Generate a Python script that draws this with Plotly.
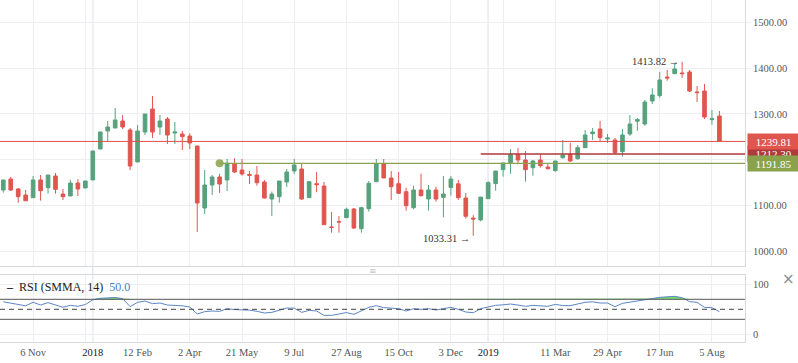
import plotly.graph_objects as go
import pandas as pd

# ---------------- data ----------------
dates = pd.date_range('2017-10-09', periods=97, freq='7D').strftime('%Y-%m-%d').tolist()

opens = [1133.5, 1157.5, 1135.7, 1122.5, 1116.7, 1155.4, 1138.6, 1164.1, 1124.7, 1120.4,
         1148.8, 1137.9, 1155.4, 1223.2, 1262.6, 1269.1, 1284.5, 1264.8, 1194.7, 1260.4,
         1310.7, 1271.3, 1288.8, 1258.2, 1256.0, 1251.6, 1229.8, 1094.1, 1144.4, 1161.9,
         1155.4, 1191.5, 1177.2, 1167.5, 1166.3, 1151.0, 1113.8, 1118.9, 1151.0, 1175.0,
         1179.4, 1116.7, 1147.3, 1142.2, 1052.5, 1064.2, 1072.9, 1091.9, 1048.9, 1092.6,
         1151.7, 1190.4, 1159.7, 1147.3, 1129.8, 1094.8, 1133.5, 1113.8, 1133.5, 1117.4,
         1139.0, 1147.0, 1116.0, 1072.0, 1068.0, 1114.5, 1147.5, 1178.0, 1193.3, 1210.8,
         1199.1, 1182.3, 1199.1, 1183.8, 1175.8, 1204.2, 1211.5, 1202.0, 1226.1, 1256.7,
         1267.0, 1245.1, 1242.9, 1217.4, 1256.0, 1284.0, 1277.9, 1328.2, 1339.9, 1380.7,
         1388.0, 1389.5, 1391.7, 1347.9, 1350.1, 1287.4, 1295.4]
highs = [1155.4, 1161.9, 1137.9, 1133.5, 1164.1, 1166.3, 1166.3, 1170.7, 1135.7, 1155.4,
         1157.5, 1153.2, 1218.8, 1260.4, 1284.5, 1312.9, 1297.6, 1269.1, 1275.7, 1299.8,
         1339.2, 1297.6, 1293.2, 1282.3, 1262.6, 1257.5, 1229.8, 1177.2, 1166.3, 1168.5,
         1201.3, 1203.0, 1201.3, 1175.4, 1186.0, 1155.4, 1130.0, 1153.2, 1179.4, 1201.3,
         1191.8, 1151.7, 1172.9, 1151.0, 1085.3, 1076.6, 1094.8, 1094.1, 1097.0, 1153.2,
         1201.3, 1201.3, 1175.0, 1172.9, 1138.6, 1143.0, 1169.2, 1144.4, 1140.8, 1164.1,
         1164.1, 1155.4, 1127.0, 1078.5, 1118.0, 1152.5, 1175.0, 1192.6, 1223.2, 1225.4,
         1218.8, 1199.1, 1212.3, 1190.4, 1196.9, 1242.9, 1237.0, 1232.0, 1264.8, 1269.1,
         1284.5, 1256.0, 1247.3, 1267.0, 1297.6, 1291.0, 1330.4, 1355.9, 1391.7, 1396.1,
         1410.0, 1413.82, 1396.1, 1361.0, 1365.4, 1308.5, 1306.4]
lows = [1127.6, 1131.3, 1105.8, 1108.7, 1116.7, 1110.1, 1125.5, 1125.5, 1111.6, 1120.4,
        1120.4, 1137.9, 1155.4, 1223.2, 1240.7, 1269.1, 1267.0, 1177.2, 1194.7, 1253.8,
        1247.3, 1253.8, 1234.1, 1234.1, 1221.0, 1223.2, 1041.6, 1081.0, 1122.5, 1126.9,
        1131.3, 1170.7, 1164.8, 1146.6, 1143.0, 1114.5, 1076.6, 1105.8, 1140.0, 1168.5,
        1111.6, 1116.7, 1128.4, 1057.6, 1040.1, 1040.1, 1072.9, 1048.1, 1040.1, 1086.1,
        1151.7, 1159.7, 1111.6, 1124.7, 1088.3, 1091.2, 1118.9, 1088.3, 1108.0, 1073.7,
        1121.1, 1112.0, 1071.0, 1033.31, 1065.0, 1114.5, 1132.0, 1162.7, 1169.2, 1189.6,
        1151.7, 1164.8, 1182.3, 1178.0, 1173.6, 1202.0, 1195.5, 1199.9, 1226.1, 1242.9,
        1240.7, 1236.3, 1211.5, 1206.4, 1252.0, 1263.0, 1274.0, 1321.7, 1335.5, 1372.7,
        1388.0, 1378.6, 1347.9, 1326.0, 1288.8, 1276.4, 1239.81]
closes = [1155.4, 1133.5, 1118.9, 1110.1, 1155.4, 1132.0, 1166.3, 1134.9, 1118.9, 1148.8,
          1135.7, 1153.2, 1218.8, 1260.4, 1271.3, 1286.7, 1271.3, 1186.0, 1262.6, 1299.8,
          1260.4, 1284.5, 1253.8, 1260.4, 1250.2, 1236.3, 1105.0, 1144.4, 1161.9, 1146.6,
          1192.2, 1172.9, 1168.5, 1165.6, 1149.5, 1116.0, 1124.7, 1153.2, 1172.9, 1188.2,
          1113.8, 1151.7, 1145.2, 1057.6, 1051.8, 1063.5, 1091.2, 1050.3, 1094.8, 1148.1,
          1190.4, 1159.7, 1140.8, 1126.2, 1099.2, 1133.5, 1121.1, 1133.5, 1113.8, 1124.7,
          1157.5, 1116.7, 1076.0, 1070.0, 1118.0, 1149.5, 1175.0, 1192.6, 1210.8, 1199.1,
          1178.0, 1196.9, 1186.7, 1180.2, 1196.9, 1210.1, 1196.9, 1226.1, 1253.8, 1260.4,
          1248.0, 1247.3, 1215.2, 1253.8, 1277.9, 1287.5, 1326.0, 1341.4, 1374.2, 1378.6,
          1398.3, 1388.0, 1350.1, 1346.5, 1293.2, 1289.6, 1239.81]
rsi = [65.0, 62.0, 59.0, 57.0, 64.0, 58.6, 63.3, 58.0, 54.0, 58.0,
       56.0, 59.5, 69.0, 72.0, 73.0, 73.5, 71.5, 55.3, 64.0, 66.6,
       61.3, 62.6, 58.6, 58.0, 57.0, 54.6, 40.6, 45.3, 46.6, 45.9,
       51.2, 49.5, 49.2, 48.3, 46.0, 42.6, 43.9, 48.5, 52.5, 52.3,
       43.9, 47.9, 46.6, 37.9, 37.9, 40.5, 43.5, 39.9, 47.2, 53.9,
       57.3, 53.3, 52.5, 51.2, 46.6, 51.2, 49.9, 51.2, 48.6, 51.0,
       53.9, 49.9, 44.6, 43.2, 51.2, 54.6, 57.9, 59.0, 60.6, 58.5,
       55.9, 57.9, 56.5, 56.0, 59.8, 57.5, 57.3, 61.0, 64.0, 65.0,
       62.6, 62.6, 55.3, 61.9, 64.0, 65.9, 69.0, 71.5, 73.9, 74.6,
       75.9, 73.2, 65.2, 64.0, 53.9, 53.3, 45.3]

tick_dates = ['2017-11-06', '2018-01-01', '2018-02-12', '2018-04-02', '2018-05-21',
              '2018-07-09', '2018-08-27', '2018-10-15', '2018-12-03', '2019-01-07',
              '2019-03-11', '2019-04-29', '2019-06-17', '2019-08-05']
tick_labels = ['6 Nov', '2018', '12 Feb', '2 Apr', '21 May', '9 Jul', '27 Aug', '15 Oct',
               '3 Dec', '2019', '11 Mar', '29 Apr', '17 Jun', '5 Aug']
year_labels = ['2018', '2019']
extra_grid_dates = ['2017-12-25', '2019-01-21']
price_ticks = [1000, 1100, 1200, 1300, 1400, 1500]
rsi_ticks = [0, 100]
rsi_upper, rsi_mid, rsi_lower = 70, 50, 30

last_price = 1239.81
level_dark, level_dark_start = 1212.30, '2018-12-31'
level_green, level_green_start = 1191.85, '2018-04-30'
high_idx, high_val = 91, 1413.82
low_idx, low_val = 63, 1033.31

# ---------------- style ----------------
FONT = 'Liberation Serif'
UP = '#56a27d'
DOWN = '#e0564f'
GRID = '#eceef1'
YEARGRID = '#d3d6db'
BORDER = '#d6d9de'
TXT = '#555555'
RED_LINE = '#dd4f4a'
DARK_RED = '#b0393a'
OLIVE = '#8aa24c'
RSI_COL = '#5b86c5'

X_RANGE = ['2017-10-05 22:00', '2019-09-05']
ticktext = ['<span style="color:#131722">%s</span>' % t if t in year_labels else t
            for t in tick_labels]

fig = go.Figure()

fig.add_trace(go.Candlestick(
    x=dates, open=opens, high=highs, low=lows, close=closes,
    increasing=dict(line=dict(color=UP, width=1), fillcolor=UP),
    decreasing=dict(line=dict(color=DOWN, width=1), fillcolor=DOWN),
    whiskerwidth=0, xaxis='x', yaxis='y', showlegend=False, hoverinfo='skip'))

# horizontal levels
fig.add_trace(go.Scatter(x=[X_RANGE[0], X_RANGE[1]], y=[last_price] * 2, mode='lines',
                         line=dict(color=RED_LINE, width=1), xaxis='x', yaxis='y',
                         showlegend=False, hoverinfo='skip'))
fig.add_trace(go.Scatter(x=[level_dark_start, X_RANGE[1]], y=[level_dark] * 2, mode='lines',
                         line=dict(color=DARK_RED, width=1.3), xaxis='x', yaxis='y',
                         showlegend=False, hoverinfo='skip'))
fig.add_trace(go.Scatter(x=[level_green_start, X_RANGE[1]], y=[level_green] * 2, mode='lines',
                         line=dict(color=OLIVE, width=1.3), xaxis='x', yaxis='y',
                         showlegend=False, hoverinfo='skip'))
fig.add_trace(go.Scatter(x=[level_green_start], y=[level_green], mode='markers',
                         marker=dict(color=OLIVE, size=8, opacity=0.85), xaxis='x', yaxis='y',
                         showlegend=False, hoverinfo='skip'))

# RSI pane
fig.add_trace(go.Scatter(x=dates, y=[rsi_upper] * len(dates), mode='lines',
                         line=dict(width=0, color='rgba(0,0,0,0)'), xaxis='x2', yaxis='y2',
                         showlegend=False, hoverinfo='skip'))
fig.add_trace(go.Scatter(x=dates, y=[max(v, rsi_upper) for v in rsi], mode='lines',
                         line=dict(width=0, color='rgba(0,0,0,0)'), fill='tonexty',
                         fillcolor='rgba(110,214,100,0.9)', xaxis='x2', yaxis='y2',
                         showlegend=False, hoverinfo='skip'))
fig.add_trace(go.Scatter(x=dates, y=rsi, mode='lines', line=dict(color=RSI_COL, width=1),
                         xaxis='x2', yaxis='y2', showlegend=False, hoverinfo='skip'))

shapes = []
for lvl, dash, col in [(rsi_upper, 'solid', '#555'), (rsi_lower, 'solid', '#555'),
                       (rsi_mid, '5px,4px', '#444')]:
    shapes.append(dict(type='line', xref='x2 domain', yref='y2', x0=0, x1=1, y0=lvl, y1=lvl,
                       line=dict(color=col, width=1, dash=dash), layer='above'))
for d in [tick_dates[tick_labels.index(y)] for y in year_labels]:
    shapes.append(dict(type='line', xref='x', yref='paper', x0=d, x1=d, y0=0, y1=1,
                       line=dict(color=YEARGRID, width=1), layer='between'))

annotations = []
# price tags
for val, col in [(level_dark, DARK_RED), (last_price, DOWN), (level_green, OLIVE)]:
    annotations.append(dict(x=1, xref='paper', y=val, yref='y', xanchor='left',
                            yanchor='middle', xshift=2,
                            text='%.2f' % val, showarrow=False, bgcolor=col, width=49,
                            height=13, borderpad=1, font=dict(family=FONT, size=11, color='white')))
annotations.append(dict(x=dates[high_idx], y=high_val, xref='x', yref='y', xanchor='right',
                        yanchor='middle', xshift=-1, text='%.2f →' % high_val, showarrow=False,
                        font=dict(family=FONT, size=10.5, color='#333')))
annotations.append(dict(x=dates[low_idx], y=low_val, xref='x', yref='y', xanchor='right',
                        yanchor='middle', xshift=-1, yshift=-3, text='%.2f →' % low_val,
                        showarrow=False, font=dict(family=FONT, size=10.5, color='#333')))
annotations.append(dict(x=0, y=1 - 287 / 342, xref='paper', yref='paper', xanchor='left',
                        yanchor='middle', xshift=4, showarrow=False,
                        text='<b>–</b>  RSI (SMMA, 14)  <span style="color:#4a7ec2">50.0</span>',
                        font=dict(family=FONT, size=12, color='#222')))
annotations.append(dict(x=0.5, y=1 - 271 / 342, xref='paper', yref='paper', showarrow=False,
                        xanchor='center', yanchor='middle',
                        text='≡', font=dict(family='DejaVu Sans', size=9, color='#c4c7cc')))
annotations.append(dict(x=1 + 43 / 745, y=1 - 279 / 342, xref='paper', yref='paper',
                        xanchor='center', yanchor='middle', showarrow=False, text='×',
                        font=dict(family='DejaVu Sans', size=15, color='#8a8d93')))

axis_font = dict(family=FONT, size=10.5, color=TXT)
fig.update_layout(
    width=798, height=363, margin=dict(l=0, r=53, t=0, b=21),
    paper_bgcolor='white', plot_bgcolor='white', hovermode=False, showlegend=False,
    xaxis=dict(domain=[0, 1], anchor='y', range=X_RANGE, type='date',
               tickmode='array', tickvals=tick_dates, showticklabels=False, ticks='',
               showgrid=True, gridcolor=GRID, zeroline=False,
               showline=True, linecolor=BORDER, linewidth=1,
               minor=dict(tickmode='array', tickvals=extra_grid_dates, showgrid=True,
                          gridcolor=GRID, ticks=''),
               rangeslider=dict(visible=False)),
    yaxis=dict(domain=[1 - 266 / 342, 1], anchor='x', side='right', range=[967.2, 1549.2],
               tickmode='array', tickvals=price_ticks, tickformat='.2f',
               ticks='outside', ticklen=5, tickcolor=GRID, gridcolor=GRID, zeroline=False,
               showline=True, linecolor=BORDER, tickfont=axis_font),
    xaxis2=dict(domain=[0, 1], anchor='y2', matches='x', type='date',
                tickmode='array', tickvals=tick_dates, ticktext=ticktext, ticks='',
                showgrid=True, gridcolor=GRID, zeroline=False,
                showline=True, mirror=True, linecolor=BORDER,
                minor=dict(tickmode='array', tickvals=extra_grid_dates, showgrid=True,
                           gridcolor=GRID, ticks=''),
                tickfont=axis_font, rangeslider=dict(visible=False)),
    yaxis2=dict(domain=[0, 1 - 275 / 342], anchor='x2', side='right', range=[-15.4, 118.6],
                tickmode='array', tickvals=rsi_ticks, ticks='outside', ticklen=5,
                tickcolor=GRID, gridcolor=GRID, zeroline=False,
                showline=True, linecolor=BORDER, tickfont=axis_font),
    shapes=shapes, annotations=annotations,
)

fig.write_html('out.html', config={'displayModeBar': False},
               post_script="document.body.style.margin='0';document.body.style.overflow='hidden';")
